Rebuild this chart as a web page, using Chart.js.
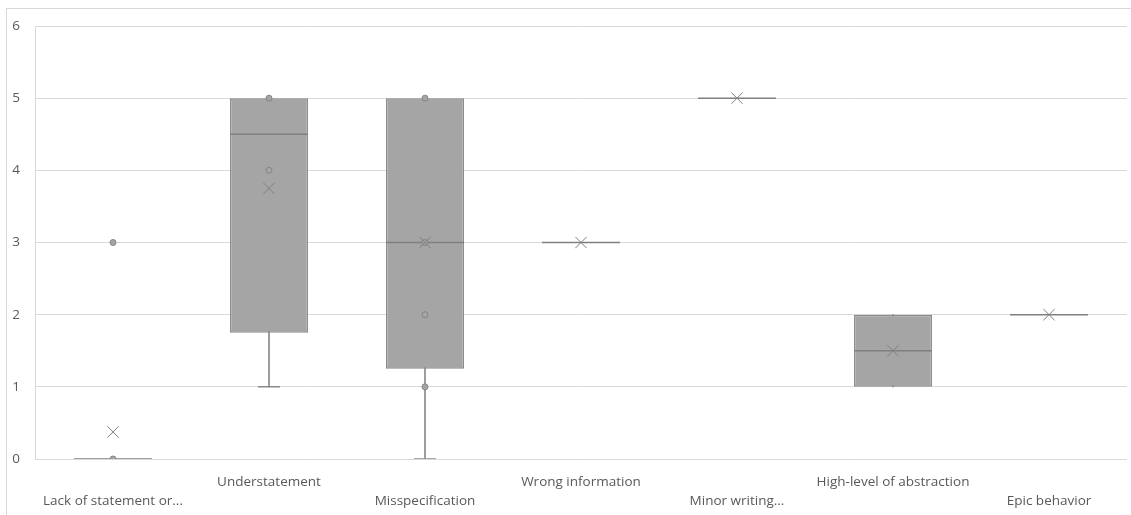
<!DOCTYPE html>
<html>
<head>
<meta charset="utf-8">
<script src="https://cdn.jsdelivr.net/npm/chart.js@4/dist/chart.umd.min.js"></script>
<style>
  html, body { margin: 0; padding: 0; background: #fff; }
  #wrap { position: relative; width: 1131px; height: 515px; overflow: hidden; }
  #frame { position: absolute; left: 6px; top: 8px; width: 1130px; height: 530px; border: 1px solid #d9d9d9; box-sizing: border-box; }
  canvas { position: absolute; left: 0; top: 0; }
</style>
</head>
<body>
<div id="wrap">
  <div id="frame"></div>
  <canvas id="box_chart"></canvas>
</div>
<script>
var categories = ['Lack of statement or...', 'Understatement', 'Misspecification', 'Wrong information', 'Minor writing...', 'High-level of abstraction', 'Epic behavior'];
var q1 = [0, 1.75, 1.25, 3, 5, 1, 2];
var q3 = [0, 5, 5, 3, 5, 2, 2];
var medians = [0, 4.5, 3, 3, 5, 1.5, 2];
var means = [0.375, 3.75, 3, 3, 5, 1.5, 2];
var whiskerLow = [0, 1, 0, 3, 5, 1, 2];
var whiskerHigh = [0, 5, 5, 3, 5, 2, 2];
// individual points shown by Excel (inner points + outliers)
var pointCats = [0, 0, 1, 1, 2, 2, 2, 2];
var pointVals = [0, 3, 5, 4, 5, 3, 2, 1];
var yTicks = [0, 1, 2, 3, 4, 5, 6];

var boxData = categories.map(function (c, i) { return [q1[i], q3[i]]; });
var whiskerData = categories.map(function (c, i) { return [whiskerLow[i], whiskerHigh[i]]; });
var medianData = categories.map(function (c, i) { return { x: c, y: medians[i] }; });
var meanData = categories.map(function (c, i) { return { x: c, y: means[i] }; });
var capData = [];
categories.forEach(function (c, i) {
  if (whiskerLow[i] < q1[i]) capData.push({ x: c, y: whiskerLow[i] });
});
var pointData = pointCats.map(function (ci, k) { return { x: categories[ci], y: pointVals[k] }; });

var ctx = document.getElementById('box_chart');
var BoxChart = new Chart(ctx, {
  type: 'bar',
  data: {
    labels: categories,
    datasets: [
      {
        type: 'bar',
        data: whiskerData,
        grouped: false,
        barThickness: 1,
        backgroundColor: '#8a8a8a',
        borderWidth: 0,
        order: 5
      },
      {
        type: 'bar',
        data: boxData,
        grouped: false,
        categoryPercentage: 1,
        barPercentage: 0.5,
        backgroundColor: '#a5a5a5',
        borderColor: '#8c8c8c',
        borderWidth: 1.5,
        borderSkipped: false,
        order: 4
      },
      {
        type: 'line',
        data: capData,
        showLine: false,
        pointStyle: 'line',
        pointRadius: 11,
        borderColor: '#8a8a8a',
        borderWidth: 1.5,
        order: 3
      },
      {
        type: 'line',
        data: medianData,
        showLine: false,
        pointStyle: 'line',
        pointRadius: 39,
        borderColor: '#808080',
        borderWidth: 1.5,
        order: 2
      },
      {
        type: 'line',
        data: pointData,
        showLine: false,
        pointStyle: 'circle',
        pointRadius: 3,
        backgroundColor: '#a5a5a5',
        borderColor: '#858585',
        borderWidth: 1,
        order: 1
      },
      {
        type: 'line',
        data: meanData,
        showLine: false,
        pointStyle: 'crossRot',
        pointRadius: 8,
        borderColor: '#7f7f7f',
        borderWidth: 1,
        order: 0
      }
    ]
  },
  options: {
    responsive: true,
    maintainAspectRatio: false,
    animation: false,
    events: [],
    layout: { autoPadding: false, padding: { left: 12, top: 26, right: 4, bottom: 0 } },
    plugins: {
      legend: { display: false },
      tooltip: { enabled: false }
    },
    scales: {
      x: {
        grid: { display: false },
        border: { display: false },
        afterFit: function (axis) {
          axis.paddingLeft = 0;
          axis.paddingRight = 0;
          axis.height = 56;
        },
        ticks: {
          color: '#595959',
          font: { family: 'Open Sans', size: 13.5, lineHeight: 1.45 },
          padding: 5,
          maxRotation: 0,
          minRotation: 0,
          autoSkip: false,
          callback: function (value, index) {
            var lbl = categories[index];
            return index % 2 === 0 ? ['', lbl] : [lbl, ''];
          }
        }
      },
      y: {
        min: 0,
        max: 6,
        afterBuildTicks: function (axis) {
          axis.ticks = yTicks.map(function (v) { return { value: v }; });
        },
        afterFit: function (axis) {
          axis.width = 23;
          axis.paddingTop = 0;
          axis.paddingBottom = 0;
        },
        grid: { color: '#d9d9d9', drawTicks: false, lineWidth: 1 },
        border: { display: true, color: '#d9d9d9' },
        ticks: {
          color: '#595959',
          font: { family: 'Open Sans', size: 13.5 },
          padding: 15
        }
      }
    }
  }
});
</script>
</body>
</html>
